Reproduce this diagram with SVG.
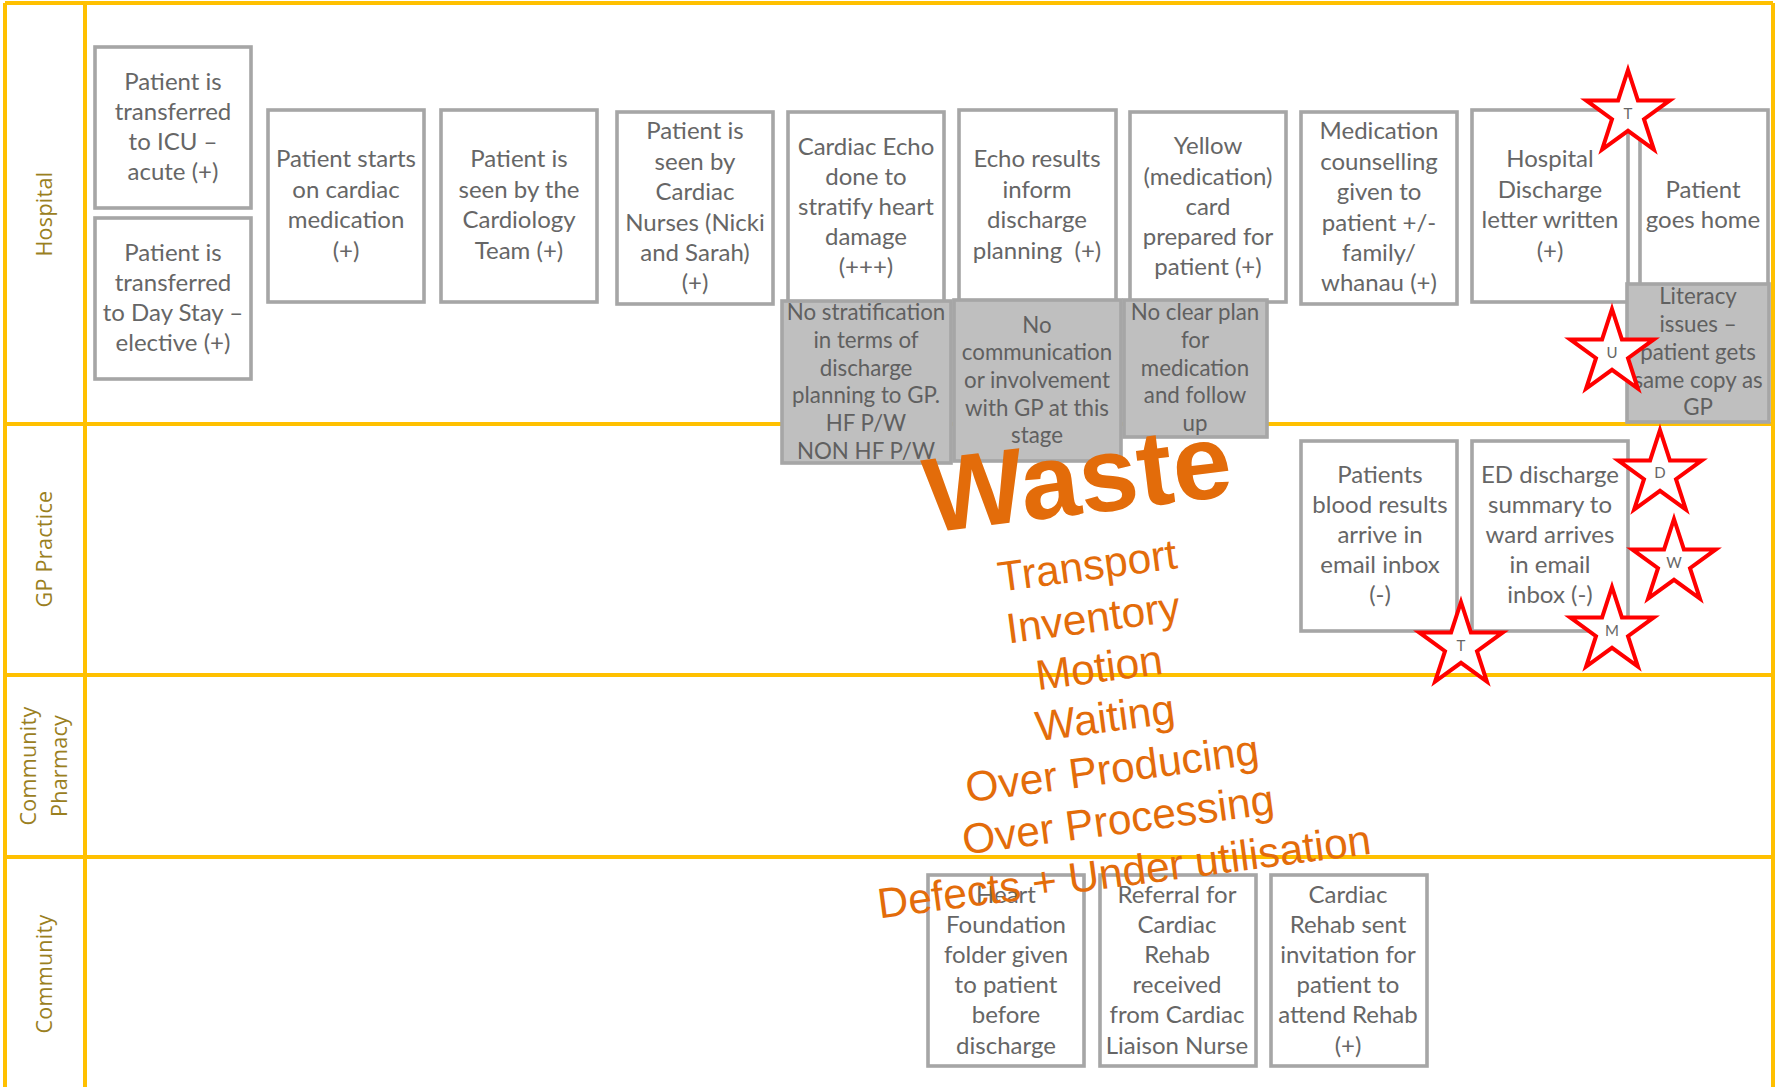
<svg xmlns="http://www.w3.org/2000/svg" width="1785" height="1087" viewBox="0 0 1785 1087">
<style>
.lane{stroke:#FFC000;stroke-width:4;fill:none}
.lbl{font:21.5px "Open Sans",sans-serif;fill:#9a801f;text-anchor:middle;letter-spacing:.3px}
.box{fill:#fff;stroke:#A6A6A6;stroke-width:3.6}
.gbox{fill:#BFBFBF;stroke:#A6A6A6;stroke-width:3.6}
.t{font:24px Lato,"Liberation Sans",sans-serif;fill:#666;text-anchor:middle}
.g{font:22.3px Lato,"Liberation Sans",sans-serif;fill:#606060;text-anchor:middle}
.star{fill:#fff;stroke:#FF0000;stroke-width:4}
.s{font:15px Lato,"Liberation Sans",sans-serif;fill:#666;text-anchor:middle}
.w{font-family:"Liberation Sans",Arial,sans-serif;fill:#E36C0A;text-anchor:middle}
.l{font-size:42.5px}
</style>
<defs><polygon id="st" points="0,-44 9.9,-13.6 41.8,-13.6 16,5.2 25.9,35.6 0,16.8 -25.9,35.6 -16,5.2 -41.8,-13.6 -9.9,-13.6"/></defs>
<rect width="1785" height="1087" fill="#fff"/>
<g id="lanes">
<path class="lane" d="M5,3H1773M5,3V1087M85,3V1087M1773,3V1087M5,424H1773M5,675H1773M5,857H1773"/>
<text class="lbl" transform="translate(52,214) rotate(-90)">Hospital</text>
<text class="lbl" transform="translate(52,549) rotate(-90)">GP Practice</text>
<text class="lbl" transform="translate(36,766) rotate(-90)">Community</text>
<text class="lbl" transform="translate(67,766) rotate(-90)">Pharmacy</text>
<text class="lbl" transform="translate(52,974) rotate(-90)">Community</text>
</g>
<g id="connectors"/>
<g id="n1"><rect class="box" x="95" y="47" width="156" height="161"/><text class="t"><tspan x="173" y="90">Patient is</tspan><tspan x="173" y="120">transferred</tspan><tspan x="173" y="150">to ICU –</tspan><tspan x="173" y="180">acute (+)</tspan></text></g>
<g id="n2"><rect class="box" x="95" y="218" width="156" height="161"/><text class="t"><tspan x="173" y="261">Patient is</tspan><tspan x="173" y="291">transferred</tspan><tspan x="173" y="321">to Day Stay –</tspan><tspan x="173" y="351">elective (+)</tspan></text></g>
<g id="n3"><rect class="box" x="268" y="110" width="156" height="192"/><text class="t"><tspan x="346" y="167">Patient starts</tspan><tspan x="346" y="198">on cardiac</tspan><tspan x="346" y="228">medication</tspan><tspan x="346" y="259">(+)</tspan></text></g>
<g id="n4"><rect class="box" x="441" y="110" width="156" height="192"/><text class="t"><tspan x="519" y="167">Patient is</tspan><tspan x="519" y="198">seen by the</tspan><tspan x="519" y="228">Cardiology</tspan><tspan x="519" y="259">Team (+)</tspan></text></g>
<g id="n5"><rect class="box" x="617" y="112" width="156" height="192"/><text class="t"><tspan x="695" y="139">Patient is</tspan><tspan x="695" y="170">seen by</tspan><tspan x="695" y="200">Cardiac</tspan><tspan x="695" y="231">Nurses (Nicki</tspan><tspan x="695" y="261">and Sarah)</tspan><tspan x="695" y="291">(+)</tspan></text></g>
<g id="n6"><rect class="box" x="788" y="112" width="156" height="190"/><text class="t"><tspan x="866" y="155">Cardiac Echo</tspan><tspan x="866" y="185">done to</tspan><tspan x="866" y="215">stratify heart</tspan><tspan x="866" y="245">damage</tspan><tspan x="866" y="275">(+++)</tspan></text></g>
<g id="n7"><rect class="box" x="959" y="110" width="157" height="192"/><text class="t"><tspan x="1037" y="167">Echo results</tspan><tspan x="1037" y="198">inform</tspan><tspan x="1037" y="228">discharge</tspan><tspan x="1037" y="259" xml:space="preserve">planning  (+)</tspan></text></g>
<g id="n8"><rect class="box" x="1130" y="112" width="156" height="190"/><text class="t"><tspan x="1208" y="154">Yellow</tspan><tspan x="1208" y="185">(medication)</tspan><tspan x="1208" y="215">card</tspan><tspan x="1208" y="245">prepared for</tspan><tspan x="1208" y="275">patient (+)</tspan></text></g>
<g id="n9"><rect class="box" x="1301" y="112" width="156" height="192"/><text class="t"><tspan x="1379" y="139">Medication</tspan><tspan x="1379" y="170">counselling</tspan><tspan x="1379" y="200">given to</tspan><tspan x="1379" y="231">patient +/-</tspan><tspan x="1379" y="261">family/</tspan><tspan x="1379" y="291">whanau (+)</tspan></text></g>
<g id="n10"><rect class="box" x="1472" y="110" width="156" height="192"/><text class="t"><tspan x="1550" y="167">Hospital</tspan><tspan x="1550" y="198">Discharge</tspan><tspan x="1550" y="228">letter written</tspan><tspan x="1550" y="259">(+)</tspan></text></g>
<g id="n11"><rect class="box" x="1640" y="110" width="128" height="192"/><text class="t"><tspan x="1703" y="198">Patient</tspan><tspan x="1703" y="228">goes home</tspan></text></g>
<g id="g1"><rect class="gbox" x="782" y="301" width="169" height="162"/><text class="g"><tspan x="866" y="320">No stratification</tspan><tspan x="866" y="348">in terms of</tspan><tspan x="866" y="376">discharge</tspan><tspan x="866" y="403">planning to GP.</tspan><tspan x="866" y="431">HF P/W</tspan><tspan x="866" y="459">NON HF P/W</tspan></text></g>
<g id="g2"><rect class="gbox" x="954" y="300" width="167" height="161"/><text class="g"><tspan x="1037" y="333">No</tspan><tspan x="1037" y="360">communication</tspan><tspan x="1037" y="388">or involvement</tspan><tspan x="1037" y="416">with GP at this</tspan><tspan x="1037" y="443">stage</tspan></text></g>
<g id="g3"><rect class="gbox" x="1124" y="300" width="143" height="137"/><text class="g"><tspan x="1195" y="320">No clear plan</tspan><tspan x="1195" y="348">for</tspan><tspan x="1195" y="376">medication</tspan><tspan x="1195" y="403">and follow</tspan><tspan x="1195" y="431">up</tspan></text></g>
<g id="g4"><rect class="gbox" x="1627" y="284" width="142" height="138"/><text class="g"><tspan x="1698" y="304">Literacy</tspan><tspan x="1698" y="332">issues –</tspan><tspan x="1698" y="360">patient gets</tspan><tspan x="1698" y="388">same copy as</tspan><tspan x="1698" y="415">GP</tspan></text></g>
<g id="n12"><rect class="box" x="1301" y="441" width="156" height="190"/><text class="t"><tspan x="1380" y="483">Patients</tspan><tspan x="1380" y="513">blood results</tspan><tspan x="1380" y="543">arrive in</tspan><tspan x="1380" y="573">email inbox</tspan><tspan x="1380" y="603">(-)</tspan></text></g>
<g id="n13"><rect class="box" x="1472" y="441" width="156" height="190"/><text class="t"><tspan x="1550" y="483">ED discharge</tspan><tspan x="1550" y="513">summary to</tspan><tspan x="1550" y="543">ward arrives</tspan><tspan x="1550" y="573">in email</tspan><tspan x="1550" y="603">inbox (-)</tspan></text></g>
<g id="n14"><rect class="box" x="928" y="875" width="156" height="191"/><text class="t"><tspan x="1006" y="903">Heart</tspan><tspan x="1006" y="933">Foundation</tspan><tspan x="1006" y="963">folder given</tspan><tspan x="1006" y="993">to patient</tspan><tspan x="1006" y="1023">before</tspan><tspan x="1006" y="1054">discharge</tspan></text></g>
<g id="n15"><rect class="box" x="1100" y="875" width="156" height="191"/><text class="t"><tspan x="1177" y="903">Referral for</tspan><tspan x="1177" y="933">Cardiac</tspan><tspan x="1177" y="963">Rehab</tspan><tspan x="1177" y="993">received</tspan><tspan x="1177" y="1023">from Cardiac</tspan><tspan x="1177" y="1054">Liaison Nurse</tspan></text></g>
<g id="n16"><rect class="box" x="1271" y="875" width="156" height="191"/><text class="t"><tspan x="1348" y="903">Cardiac</tspan><tspan x="1348" y="933">Rehab sent</tspan><tspan x="1348" y="963">invitation for</tspan><tspan x="1348" y="993">patient to</tspan><tspan x="1348" y="1023">attend Rehab</tspan><tspan x="1348" y="1054">(+)</tspan></text></g>
<g id="star-t1"><use href="#st" class="star" x="1628" y="114"/><text class="s" x="1628" y="119">T</text></g>
<g id="star-u"><use href="#st" class="star" x="1612" y="353"/><text class="s" x="1612" y="358">U</text></g>
<g id="star-d"><use href="#st" class="star" x="1660" y="474"/><text class="s" x="1660" y="478">D</text></g>
<g id="star-w"><use href="#st" class="star" x="1674" y="563"/><text class="s" x="1674" y="568">W</text></g>
<g id="star-m"><use href="#st" class="star" x="1612" y="631"/><text class="s" x="1612" y="636">M</text></g>
<g id="star-t2"><use href="#st" class="star" x="1461" y="646"/><text class="s" x="1461" y="651">T</text></g>
<g id="waste">
<text class="w" font-size="106" font-weight="bold" transform="translate(1082,514) rotate(-7)">Waste</text>
<text class="w l" transform="translate(1089,580) rotate(-7.5)">Transport</text>
<text class="w l" transform="translate(1095,632) rotate(-7.5)">Inventory</text>
<text class="w l" transform="translate(1101,682) rotate(-7.5)">Motion</text>
<text class="w l" transform="translate(1107,732) rotate(-7.5)">Waiting</text>
<text class="w l" transform="translate(1114,783) rotate(-7.5)">Over Producing</text>
<text class="w l" transform="translate(1120,834) rotate(-7.5)">Over Processing</text>
<text class="w l" transform="translate(1126,886) rotate(-7.5)">Defects + Under utilisation</text>
</g>
</svg>
